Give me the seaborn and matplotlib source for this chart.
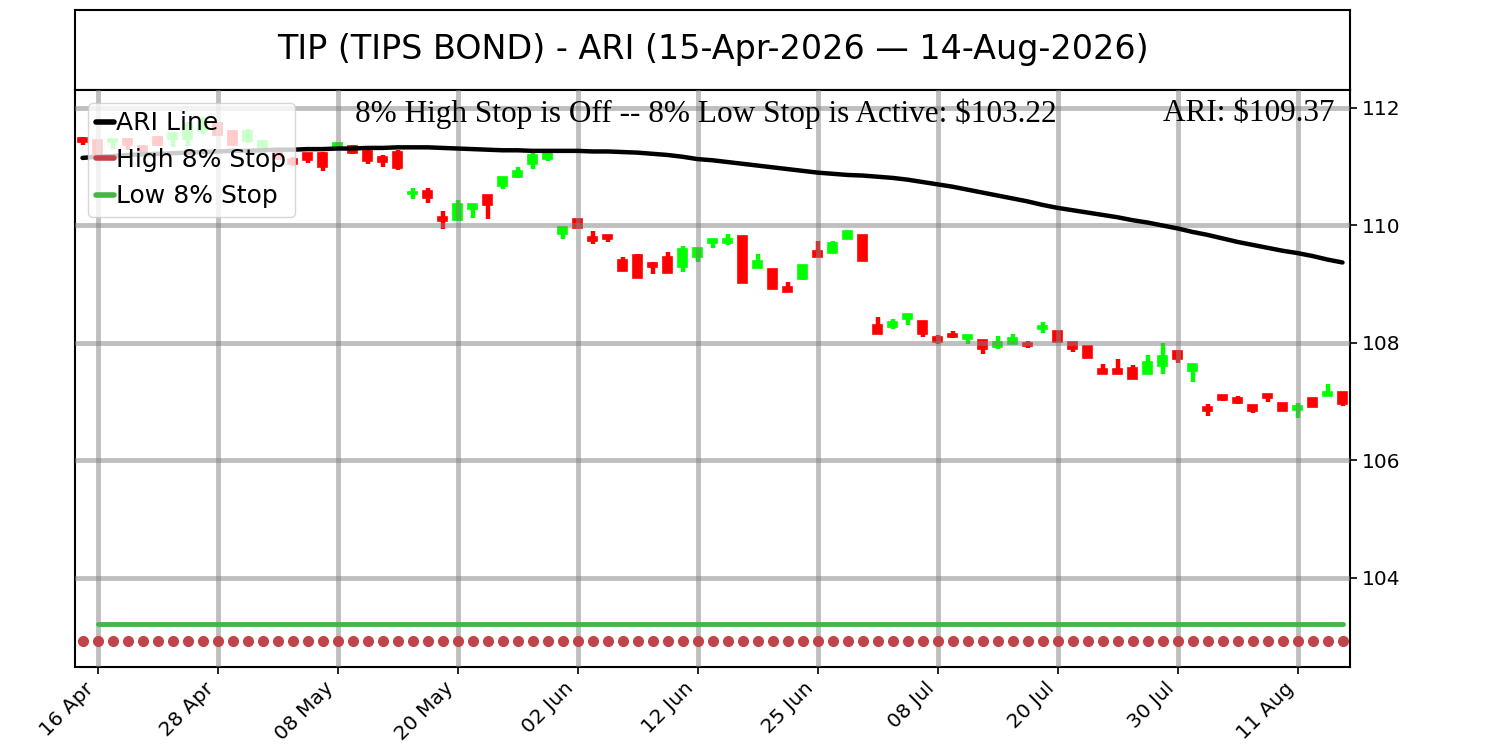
import pandas as pd
import numpy as np
import matplotlib
matplotlib.use('Agg')
import matplotlib.pyplot as plt
import seaborn as sns

# ---- dados ----
ticker = 'TIP (TIPS BOND)'
inicio = '15-Apr-2026'
fim = '14-Aug-2026'

feriados = ['2026-05-25', '2026-06-19', '2026-07-03']
datas = pd.bdate_range('2026-04-15', '2026-08-14')
datas = datas[~datas.isin(pd.to_datetime(feriados))]

abertura = [111.49, 111.46, 111.42, 111.47, 111.35, 111.51, 111.48, 111.47, 111.60, 111.74,
            111.60, 111.43, 111.29, 111.26, 111.14, 111.23, 111.23, 111.31, 111.35, 111.26,
            111.17, 111.25, 110.53, 110.59, 110.15, 110.09, 110.28, 110.52, 110.68, 110.83,
            111.04, 111.14, 109.85, 110.11, 109.81, 109.84, 109.42, 109.50, 109.36, 109.46,
            109.30, 109.46, 109.70, 109.70, 109.82, 109.28, 109.26, 108.95, 109.09, 109.57,
            109.53, 109.77, 109.84, 108.31, 108.28, 108.41, 108.37, 108.11, 108.15, 108.07,
            108.05, 107.93, 107.98, 108.00, 108.23, 108.20, 108.01, 107.95, 107.55, 107.56,
            107.58, 107.48, 107.61, 107.87, 107.53, 106.91, 107.11, 107.07, 106.94, 107.13,
            106.98, 106.86, 107.06, 107.10, 107.17]
fechamento = [111.42, 111.17, 111.47, 111.37, 111.23, 111.37, 111.57, 111.74, 111.78, 111.54,
              111.37, 111.60, 111.43, 111.14, 111.04, 111.11, 111.00, 111.40, 111.24, 111.09,
              111.08, 110.98, 110.57, 110.47, 110.08, 110.37, 110.37, 110.35, 110.82, 110.92,
              111.20, 111.23, 109.97, 109.95, 109.74, 109.77, 109.23, 109.11, 109.30, 109.19,
              109.60, 109.61, 109.77, 109.77, 109.02, 109.40, 108.92, 108.87, 109.33, 109.47,
              109.71, 109.90, 109.40, 108.15, 108.35, 108.49, 108.15, 108.02, 108.11, 108.14,
              107.89, 108.01, 108.08, 107.95, 108.29, 108.02, 107.89, 107.75, 107.48, 107.48,
              107.38, 107.67, 107.78, 107.72, 107.64, 106.85, 107.03, 106.98, 106.85, 107.07,
              106.85, 106.92, 106.91, 107.17, 106.96]
maxima = [111.50, 111.47, 111.47, 111.48, 111.36, 111.52, 111.58, 111.76, 111.85, 111.76,
          111.62, 111.65, 111.45, 111.27, 111.16, 111.24, 111.25, 111.42, 111.37, 111.28,
          111.20, 111.28, 110.64, 110.64, 110.25, 110.43, 110.37, 110.52, 110.82, 111.00,
          111.26, 111.27, 109.97, 110.11, 109.90, 109.84, 109.46, 109.52, 109.38, 109.55,
          109.65, 109.61, 109.77, 109.86, 109.82, 109.52, 109.26, 109.04, 109.33, 109.74,
          109.74, 109.90, 109.84, 108.44, 108.41, 108.49, 108.37, 108.13, 108.20, 108.14,
          108.05, 108.12, 108.15, 108.03, 108.35, 108.21, 108.01, 107.95, 107.64, 107.73,
          107.63, 107.80, 108.00, 107.88, 107.64, 106.96, 107.12, 107.09, 106.94, 107.13,
          106.98, 106.97, 107.06, 107.30, 107.17]
minima = [111.37, 111.17, 111.31, 111.29, 111.22, 111.36, 111.34, 111.35, 111.55, 111.52,
          111.36, 111.40, 111.22, 111.13, 111.02, 111.07, 110.93, 111.30, 111.22, 111.04,
          111.00, 110.95, 110.45, 110.38, 109.94, 110.08, 110.13, 110.11, 110.62, 110.81,
          110.96, 111.10, 109.77, 109.95, 109.68, 109.72, 109.23, 109.11, 109.17, 109.19,
          109.20, 109.38, 109.62, 109.66, 109.02, 109.28, 108.92, 108.87, 109.08, 109.47,
          109.53, 109.77, 109.40, 108.15, 108.24, 108.30, 108.11, 107.99, 108.09, 107.98,
          107.81, 107.90, 107.98, 107.92, 108.17, 108.01, 107.84, 107.75, 107.48, 107.48,
          107.38, 107.48, 107.48, 107.66, 107.34, 106.76, 107.01, 106.96, 106.80, 106.99,
          106.85, 106.72, 106.91, 107.10, 106.93]
ari = [111.15, 111.17, 111.18, 111.20, 111.21, 111.22, 111.23, 111.24, 111.25, 111.26,
       111.27, 111.27, 111.28, 111.29, 111.29, 111.30, 111.30, 111.31, 111.31, 111.32,
       111.32, 111.33, 111.33, 111.33, 111.32, 111.31, 111.30, 111.29, 111.28, 111.28,
       111.27, 111.27, 111.27, 111.27, 111.26, 111.26, 111.25, 111.24, 111.22, 111.20,
       111.17, 111.13, 111.11, 111.08, 111.05, 111.02, 110.99, 110.96, 110.93, 110.90,
       110.88, 110.86, 110.85, 110.83, 110.81, 110.78, 110.74, 110.70, 110.66, 110.61,
       110.56, 110.51, 110.46, 110.41, 110.35, 110.30, 110.26, 110.22, 110.18, 110.14,
       110.09, 110.05, 110.00, 109.95, 109.89, 109.84, 109.78, 109.72, 109.67, 109.62,
       109.57, 109.53, 109.48, 109.42, 109.37]
stop_baixo = 103.22
stop_alto_off = 102.92   # marcador do stop alto desligado

df = pd.DataFrame({'data': datas, 'open': abertura, 'close': fechamento,
                   'high': maxima, 'low': minima, 'ari': ari})
df['i'] = np.arange(len(df))

# ---- estilo ----
sns.set_style('ticks', {'axes.edgecolor': 'black', 'xtick.direction': 'out',
                        'ytick.direction': 'out', 'text.color': 'black',
                        'xtick.color': 'black', 'ytick.color': 'black',
                        'axes.labelcolor': 'black'})
plt.rcParams['font.family'] = ['DejaVu Sans']
plt.rcParams['axes.linewidth'] = 1.5

fig = plt.figure(figsize=(15, 7.5), dpi=100)
ax_t = fig.add_axes([0.05, 0.88, 0.85, 0.1067])    # caixa do título
ax = fig.add_axes([0.05, 0.1107, 0.85, 0.7693])    # gráfico principal

ax_t.set_xticks([])
ax_t.set_yticks([])
for s in ax_t.spines.values():
    s.set_visible(True)
    s.set_color('black')
ax_t.text(0.5, 0.5, f'{ticker} - ARI ({inicio} \u2014 {fim})', ha='center', va='center',
          fontsize=24, color='black', transform=ax_t.transAxes)

# candles
cores = np.where(df.close >= df.open, '#00ff00', '#ff0000')
ax.vlines(df.i, df.low, df.high, colors=cores, linewidth=3.2, zorder=1)
ax.bar(df.i, df.close - df.open, bottom=df.open, width=0.62, color=cores,
       edgecolor=cores, linewidth=1.2, zorder=1)

# linhas
sns.lineplot(x=df.i, y=df.ari, color='black', linewidth=3.2, ax=ax, zorder=3, label='ARI Line')
ax.plot(df.i, [stop_alto_off] * len(df), linestyle='none', marker='o', markersize=7,
        color='#c0454a', zorder=3)
ax.plot([], [], color='#c0454a', linewidth=3, label='High 8% Stop')
sns.lineplot(x=df.i[1:], y=[stop_baixo] * (len(df) - 1), color='#45b545', linewidth=3.5,
             ax=ax, zorder=3, label='Low 8% Stop')

ax.set_xlim(-0.5, len(df) - 0.5)
ax.set_ylim(102.485, 112.306)
ax.yaxis.tick_right()
ax.set_yticks([104, 106, 108, 110, 112])
pos = df.i[1::8]
ax.set_xticks(pos)
ax.set_xticklabels([d.strftime('%d %b') for d in df.data[1::8]], rotation=45, ha='right')
ax.tick_params(labelsize=14.5, width=1.2, length=5)
ax.set_xlabel('')
ax.set_ylabel('')
ax.set_axisbelow(False)
ax.grid(True, color='gray', alpha=0.5, linewidth=3.5)
for s in ax.spines.values():
    s.set_visible(True)

ax.text(0.4945, 0.985, f'8% High Stop is Off -- 8% Low Stop is Active: ${stop_baixo:.2f}',
        transform=ax.transAxes, ha='center', va='top', fontsize=22.5, color='black',
        family=['Liberation Serif', 'DejaVu Serif'], zorder=4)
ax.text(0.988, 0.985, f'ARI: ${ari[-1]:.2f}', transform=ax.transAxes, ha='right', va='top',
        fontsize=22.5, color='black', family=['Liberation Serif', 'DejaVu Serif'], zorder=4)

leg = ax.legend(loc='upper left', fontsize=18, handlelength=0.7, handletextpad=0.1,
                borderaxespad=0.5, borderpad=0.35, labelspacing=0.5)
for h in leg.get_lines():
    h.set_linewidth(4)
for t in leg.get_texts():
    t.set_color('black')
leg.set_zorder(5)

fig.savefig('out.png', dpi=100)
